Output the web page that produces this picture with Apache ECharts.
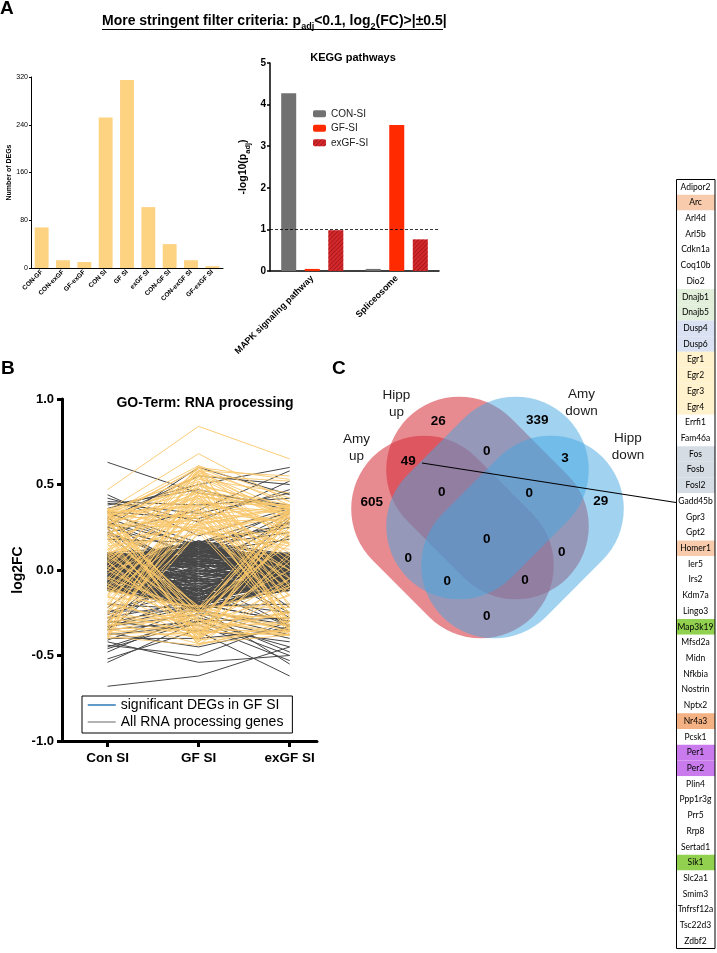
<!DOCTYPE html>
<html><head><meta charset="utf-8">
<script src="https://cdn.jsdelivr.net/npm/echarts@6/dist/echarts.min.js"></script>
<style>html,body{margin:0;padding:0;background:#fff}#c{width:717px;height:953px}</style>
</head><body><div id="c"></div>
<script>
// ---------- Panel A: number of DEGs ----------
const degCategories = ['CON-GF','CON-exGF','GF-exGF','CON SI','GF SI','exGF SI','CON-GF SI','CON-exGF SI','GF-exGF SI'];
const degCounts = [68, 13, 10, 252, 315, 102, 40, 13, 3];
const degTicks = [0, 80, 160, 240, 320];

// ---------- Panel A: KEGG pathways ----------
const keggPathways = ['MAPK signaling pathway', 'Spliceosome'];
const keggConSI = [4.27, 0.05];
const keggGfSI = [0.05, 3.51];
const keggExGfSI = [0.98, 0.76];
const keggThreshold = 1;

// ---------- Panel B: GO-Term RNA processing (log2FC at Con SI, GF SI, exGF SI) ----------
const goGroups = ['Con SI', 'GF SI', 'exGF SI'];
const allRnaGenes = [
[0.03,0.10,-0.01],[-0.06,-0.15,0.02],[0.08,0.02,0.06],[-0.11,-0.08,-0.07],[0.00,0.14,0.04],[0.05,-0.20,-0.03],[-0.03,0.05,0.08],[0.09,0.12,-0.06],[-0.12,-0.22,-0.11],[0.01,-0.04,0.00],
[-0.07,0.16,0.05],[0.06,-0.12,0.09],[-0.01,0.08,-0.09],[0.04,-0.18,0.01],[-0.09,0.00,-0.04],[0.08,0.06,0.08],[-0.05,-0.20,-0.12],[0.02,0.15,-0.05],[-0.12,-0.10,0.03],[0.07,-0.02,-0.08],
[-0.02,-0.23,0.06],[0.06,0.11,0.02],[-0.10,0.12,-0.10],[0.09,-0.08,0.04],[-0.04,-0.05,-0.01],[0.01,0.17,0.09],[-0.11,-0.17,0.00],[0.04,0.04,-0.11],[-0.07,0.07,0.07],[0.08,-0.16,-0.02],
[-0.01,-0.10,-0.06],[0.02,0.13,0.06],[-0.08,-0.24,-0.08],[0.06,0.09,-0.01],[-0.05,0.03,0.09],[0.09,-0.21,0.03],[-0.10,0.10,-0.05],[0.04,-0.01,0.07],[-0.12,-0.14,-0.12],[0.00,0.06,-0.07],
[0.05,-0.06,0.05],[-0.04,0.15,-0.03],[0.08,-0.19,-0.10],[-0.08,-0.03,0.08],[0.02,0.09,0.01],[-0.11,-0.21,0.04],[0.07,0.16,-0.04],[-0.02,-0.12,-0.11],[0.06,0.01,0.09],[-0.06,-0.18,-0.02],
[0.10,0.14,0.03],[-0.12,0.05,-0.09],[0.03,-0.14,0.07],[-0.03,0.12,-0.07],[0.07,-0.09,-0.05],[-0.09,-0.13,0.05],[0.01,0.02,0.04],[-0.05,-0.24,-0.05],[0.06,0.17,0.07],[-0.07,-0.06,-0.12],
[0.04,-0.22,0.00],[-0.01,0.11,0.09],[0.09,0.00,-0.10],[-0.10,-0.16,-0.01],[0.03,0.07,-0.02],[-0.06,-0.09,0.06],[0.07,-0.17,0.05],[-0.12,0.02,-0.08],[0.01,-0.07,0.02],[-0.02,0.14,-0.10],
[0.08,0.08,0.09],[-0.09,-0.20,-0.12],[0.04,0.16,0.00],[-0.07,-0.01,0.04],[0.05,-0.11,-0.07],[-0.11,0.09,0.07],[0.00,-0.19,-0.04],[0.10,0.04,0.05],[-0.04,-0.14,-0.09],[0.02,0.10,0.08],
[-0.11,-0.06,-0.02],[0.07,0.13,-0.08],[-0.01,-0.21,0.05],[0.05,0.05,0.02],[-0.08,0.16,-0.06],[0.03,-0.05,-0.10],[-0.06,-0.11,0.08],[0.09,-0.13,0.01],[-0.04,0.00,-0.05],[0.01,0.12,0.06],
[-0.10,-0.23,-0.07],[0.06,-0.03,0.09],[-0.02,0.07,-0.11],[0.04,-0.15,0.04],[-0.12,-0.04,0.01],[0.07,0.15,0.04],[-0.05,-0.18,-0.06],[0.02,0.03,-0.01],[-0.07,0.13,0.05],[0.07,-0.20,-0.05],
[0.04,0.16,-0.06],[-0.10,-0.12,-0.10],[0.08,-0.06,0.07],[-0.02,0.04,0.03],[0.01,-0.23,-0.08],[-0.05,0.11,0.09],[0.10,-0.10,-0.02],[-0.08,-0.02,-0.05],[0.05,0.08,0.07],[-0.01,-0.17,0.01],
[0.07,0.03,-0.04],[-0.04,-0.22,0.07],[0.03,0.14,-0.09],[-0.11,-0.15,0.02],[0.09,0.11,0.06],[-0.03,-0.08,-0.08],[0.05,-0.18,0.04],[-0.07,0.06,-0.02],[0.00,0.15,0.05],[-0.09,-0.19,-0.07],
[0.02,0.13,0.01],[-0.05,-0.17,-0.04],[0.06,0.05,0.08],[-0.09,-0.11,0.03],[0.01,0.17,-0.03],[-0.03,-0.24,-0.10],[0.08,0.08,0.02],[-0.06,-0.02,0.06],[0.03,-0.13,-0.06],[-0.10,0.12,0.00],
[0.05,-0.21,0.07],[-0.02,0.09,-0.12],[0.09,-0.04,0.05],[-0.12,-0.20,-0.03],[0.04,0.16,0.08],[-0.07,0.01,-0.09],[0.07,-0.15,0.03],[-0.01,0.10,0.10],[0.10,-0.07,-0.06],[-0.08,-0.23,0.05],
[0.25,0.10,0.18],[-0.28,-0.18,-0.25],[0.30,0.14,0.22],[-0.31,-0.20,-0.30],[0.22,0.03,-0.25],[-0.25,-0.05,0.20],[0.28,0.07,0.33],[0.18,0.16,0.34],[-0.26,-0.11,-0.33],[0.33,0.16,0.27],
[-0.33,-0.21,-0.20],[0.24,-0.20,-0.30],[-0.30,0.12,0.28],[0.34,0.12,0.35],[-0.24,-0.24,-0.32],[0.20,-0.17,0.30],[-0.35,0.05,-0.28],[0.31,-0.12,0.10],[-0.28,-0.02,0.31],[0.27,0.15,-0.22],
[-0.22,0.16,0.25],[0.29,-0.05,-0.33],[-0.34,-0.14,0.02],[0.21,0.02,0.28],[-0.20,-0.23,-0.35],
[0.63,0.45,0.38],[0.36,0.50,0.60],[0.30,0.55,0.50],[0.25,0.60,0.44],[0.38,0.47,0.35],[0.22,0.35,0.58],[0.34,0.30,0.47],[0.40,0.38,0.42],[0.42,0.28,0.52],[0.39,0.33,0.45],[0.44,0.20,0.36],
[-0.54,-0.30,-0.28],[-0.42,-0.54,-0.50],[-0.38,-0.32,-0.53],[-0.68,-0.62,-0.45],[-0.30,-0.36,-0.62],[-0.45,-0.28,-0.40],[-0.40,-0.40,-0.35],[-0.35,-0.30,-0.45],[-0.44,-0.50,-0.30],[-0.33,-0.26,-0.48],
[-0.48,-0.25,-0.38],[-0.41,-0.22,-0.55],[-0.52,-0.35,-0.42],[-0.37,-0.45,-0.33],[-0.46,-0.30,-0.50]
];
const sigDegsGfSI = [
[0.47,0.84,0.65],[0.35,0.68,0.40],[0.33,0.61,0.42],[0.30,0.60,0.38],[0.20,0.58,0.55],[0.10,0.57,0.35],[-0.05,0.55,0.30],[0.34,0.55,0.52],[0.25,0.52,0.20],[-0.15,0.50,0.36],
[0.05,0.48,-0.10],[0.32,0.46,0.33],[-0.30,0.45,0.25],[0.15,0.44,0.05],[0.28,0.42,-0.20],[-0.20,0.40,0.10],[0.00,0.38,0.34],[0.22,0.36,-0.30],[-0.35,0.35,0.00],[0.12,0.34,0.28],
[0.30,0.32,0.15],[-0.10,0.30,-0.25],[0.26,0.29,0.36],[-0.25,0.28,0.30],[0.08,0.27,-0.05],[0.33,0.26,0.00],[-0.38,0.25,-0.15],[0.18,0.24,0.32],[-0.02,0.23,0.12],[0.35,0.22,-0.35],
[0.14,0.21,0.22],[-0.28,0.21,0.34],[0.24,0.40,0.26],[-0.08,0.43,0.37],[0.31,0.50,0.18],[0.02,0.58,0.30],[0.20,0.31,-0.12],[-0.18,0.33,0.20],[0.34,0.37,0.08],[-0.32,0.29,-0.30],
[0.10,0.26,0.38],[0.29,0.53,0.45],[-0.12,0.36,-0.38],[0.06,0.41,0.24],[0.27,0.45,0.37],
[-0.40,0.56,0.32],[0.32,0.59,-0.10],[-0.22,0.60,0.15],[0.16,0.57,-0.28],[-0.33,0.52,-0.05],[0.35,0.54,0.28],[0.00,0.61,-0.22],[-0.10,0.58,0.40],[0.27,0.56,-0.34],[-0.26,0.49,0.38],
[0.12,0.51,-0.36],[0.34,0.48,0.02],[-0.38,0.47,0.36],[0.21,0.46,-0.15],[-0.06,0.44,-0.32],[0.30,0.43,0.35],[-0.16,0.42,0.22],[0.04,0.39,0.38],[0.33,0.38,-0.27],[-0.35,0.37,0.33],
[0.19,0.35,-0.08],[-0.24,0.34,-0.36],[0.09,0.32,0.37],[0.36,0.30,-0.30],[-0.31,0.27,0.36],[0.26,0.25,0.16],[-0.14,0.24,-0.33],[0.31,0.23,0.31],[-0.39,0.22,0.14],[0.07,0.60,0.53],
[0.20,-0.44,-0.30],[-0.30,-0.43,-0.38],[0.05,-0.42,-0.10],[-0.15,-0.41,-0.35],[0.30,-0.40,0.10],[-0.35,-0.39,-0.20],[0.10,-0.38,0.30],[-0.25,-0.37,0.05],[0.25,-0.36,-0.38],[-0.05,-0.35,-0.25],
[-0.38,-0.34,0.20],[0.15,-0.33,-0.05],[-0.20,-0.32,-0.32],[0.33,-0.31,-0.15],[-0.10,-0.30,0.25],[0.00,-0.29,-0.37],[-0.32,-0.28,0.00],[0.22,-0.27,0.18],[-0.28,-0.26,-0.28],[0.08,-0.25,0.35],
[-0.36,-0.24,-0.10],[0.28,-0.23,-0.36],[-0.12,-0.22,0.15],[0.18,-0.21,-0.22],[-0.22,-0.40,-0.14],[0.12,-0.43,-0.34],[-0.40,-0.36,-0.38],[0.35,-0.30,0.30],[-0.08,-0.38,0.08],[0.02,-0.34,-0.30],
[0.34,-0.42,0.22],[-0.39,-0.44,-0.05],[0.18,-0.41,0.36],[-0.27,-0.40,0.30],[0.29,-0.38,-0.24],[-0.11,-0.39,0.34],[0.36,-0.37,-0.08],[-0.34,-0.35,-0.36],[0.05,-0.36,0.22],[-0.19,-0.33,-0.38],
[0.24,-0.32,0.33],[-0.37,-0.31,-0.25],[0.13,-0.29,-0.38],[-0.30,-0.27,0.35],[0.32,-0.26,-0.28],[-0.04,-0.25,0.36],[0.20,-0.24,-0.33],[-0.33,-0.23,0.28],[0.27,-0.22,0.37],[-0.16,-0.21,-0.36]
];
const goTicks = [-1, -0.5, 0, 0.5, 1];

// ---------- Panel C: Venn ----------
const vennSets = ['Amy up', 'Hipp up', 'Amy down', 'Hipp down'];
const vennRegions = ['A','B','C','D','AB','AC','AD','BC','BD','CD','ABC','ABD','ACD','BCD','ABCD'];
const vennCounts  = [605, 26, 339, 29, 49, 0, 0, 0, 0, 3, 0, 0, 0, 0, 0];

// ---------- Panel C: genes in Amy up ∩ Hipp up ----------
const sharedGenes = ['Adipor2','Arc','Arl4d','Arl5b','Cdkn1a','Coq10b','Dio2','Dnajb1','Dnajb5','Dusp4','Dusp6','Egr1','Egr2','Egr3','Egr4','Errfi1','Fam46a','Fos','Fosb','Fosl2','Gadd45b','Gpr3','Gpt2','Homer1','Ier5','Irs2','Kdm7a','Lingo3','Map3k19','Mfsd2a','Midn','Nfkbia','Nostrin','Nptx2','Nr4a3','Pcsk1','Per1','Per2','Plin4','Ppp1r3g','Prr5','Rrp8','Sertad1','Sik1','Slc2a1','Smim3','Tnfrsf12a','Tsc22d3','Zdbf2'];
const geneFamily = ['','arc','','','','','','hsp40','hsp40','dusp','dusp','egr','egr','egr','egr','','','ap1','ap1','ap1','','','','arc','','','','','kinase','','','','','','nr4a','','per','per','','','','','','kinase','','','','',''];

// ---------- styles (kept apart from data) ----------
const FONT = 'Liberation Sans, Arial, sans-serif';
const familyColor = {'':'#ffffff', arc:'#F8CBAD', hsp40:'#E2EFDA', dusp:'#D9E1F2', egr:'#FFF2CC', ap1:'#D6DCE4', kinase:'#92D050', nr4a:'#F4B183', per:'#C97BEE'};
const vennLayout = {
  shapes: [
    {x:452.5, y:537, rot:-Math.PI/4, fill:'rgba(214,43,54,0.55)'},
    {x:487.5, y:498, rot:-Math.PI/4, fill:'rgba(214,43,54,0.55)'},
    {x:487.5, y:498, rot: Math.PI/4, fill:'rgba(68,165,226,0.5)'},
    {x:522.5, y:537, rot: Math.PI/4, fill:'rgba(68,165,226,0.5)'}
  ],
  len:226, thick:146,
  setLabels: [[356.5,448],[396.5,403.5],[581.5,402.5],[628,447]],
  regions: {A:[371.7,502.7],B:[438.3,421.7],C:[537.3,420],D:[600.7,501.7],AB:[408.3,461.7],AC:[408.3,558.3],AD:[486.7,616.5],BC:[486.7,451.7],BD:[561.7,552.3],CD:[565,458.3],ABC:[441.7,492.7],ABD:[525,580.5],ACD:[447.3,581],BCD:[529.3,493.3],ABCD:[486.7,539.3]}
};

function polyline(lines) {
  const d = [];
  lines.forEach(t => { t.forEach((v, i) => d.push([i, v])); d.push([2, '-']); });
  return d;
}

const graphics = [];
function txt(x, y, text, size, weight, align, extra) {
  graphics.push({type:'text', x, y, z:10, style: Object.assign({text, fontSize:size, fontWeight:weight||'normal', fontFamily:FONT, fill:'#000', align:align||'left', verticalAlign:'middle'}, extra||{})});
}
txt(0, 9, 'A', 19, 'bold');
txt(102, 21, '{m|More stringent filter criteria: p}{s|adj}{m|<0.1, log}{s|2}{m|(FC)>|±0.5|}', 14, 'bold', 'left', {
  rich: {
    m: {fontSize:14, fontWeight:'bold', fontFamily:FONT, lineHeight:14, verticalAlign:'top'},
    s: {fontSize:9, fontWeight:'bold', fontFamily:FONT, lineHeight:9, padding:[8,0,0,0], verticalAlign:'top'}
  }
});
graphics.push({type:'line', z:10, shape:{x1:102, y1:29.5, x2:443, y2:29.5}, style:{stroke:'#000', lineWidth:1}});
txt(353, 58, 'KEGG pathways', 11, 'bold', 'center');
txt(1, 369, 'B', 19, 'bold');
txt(205, 403, 'GO-Term: RNA processing', 14, 'bold', 'center');
txt(332, 369, 'C', 19, 'bold');

vennLayout.shapes.forEach((e, i) => {
  const L = vennLayout.len, T = vennLayout.thick;
  graphics.push({type:'rect', x:e.x, y:e.y, rotation:e.rot, z:2 + i,
    shape:{x:-L/2, y:-T/2, width:L, height:T, r:T/2}, style:{fill:e.fill}});
});
vennSets.forEach((s, i) => {
  const p = vennLayout.setLabels[i];
  txt(p[0], p[1], s.replace(' ', '\n'), 13.5, 'normal', 'center', {lineHeight:17, fill:'#1a1a1a'});
});
vennRegions.forEach((r, i) => {
  const p = vennLayout.regions[r];
  txt(p[0], p[1], String(vennCounts[i]), 13.5, 'bold', 'center');
});
graphics.push({type:'line', z:11, shape:{x1:422, y1:463, x2:676, y2:502.5}, style:{stroke:'#000', lineWidth:1.2}});
graphics.push({type:'rect', z:20, shape:{x:676.5, y:179.5, width:38.5, height:769}, style:{fill:null, stroke:'#000', lineWidth:1}});

const chart = echarts.init(document.getElementById('c'), null, {renderer:'canvas'});
const option = {
  animation: false,
  backgroundColor: '#fff',
  textStyle: {fontFamily: FONT, color:'#000'},
  grid: [
    {left:31, top:77, width:192, height:191},
    {left:270, top:63, width:169, height:208},
    {left:62, top:399, width:255, height:342},
    {left:676, top:179, width:39, height:770}
  ],
  xAxis: [
    {type:'category', gridIndex:0, data:degCategories,
     axisLine:{lineStyle:{color:'#000', width:1}}, axisTick:{show:false},
     axisLabel:{rotate:45, interval:0, fontSize:6.5, fontWeight:'bold', color:'#000', margin:3}},
    {type:'category', gridIndex:1, data:keggPathways,
     axisLine:{lineStyle:{color:'#000', width:1.5}}, axisTick:{alignWithLabel:true, length:3, lineStyle:{color:'#000'}},
     axisLabel:{rotate:45, interval:0, fontSize:9, fontWeight:'bold', color:'#000', margin:6}},
    {type:'value', gridIndex:2, min:-0.5, max:2.3, splitLine:{show:false},
     axisLine:{onZero:false, lineStyle:{color:'#000', width:3}},
     axisTick:{customValues:[0,1,2], length:6, lineStyle:{color:'#000', width:3}},
     axisLabel:{customValues:[0,1,2], formatter: v => goGroups[Math.round(v)], fontSize:13.5, fontWeight:'bold', color:'#000', margin:10}},
    {type:'value', gridIndex:3, min:0, max:1, show:false}
  ],
  yAxis: [
    {type:'value', gridIndex:0, min:degTicks[0], max:degTicks[degTicks.length-1], interval:degTicks[1]-degTicks[0], splitLine:{show:false},
     axisLine:{show:true, lineStyle:{color:'#000', width:1}}, axisTick:{show:true, length:2, lineStyle:{color:'#000'}},
     axisLabel:{fontSize:7, color:'#000', margin:3},
     name:'Number of DEGs', nameLocation:'middle', nameRotate:90, nameGap:17, nameTextStyle:{fontSize:7, fontWeight:'bold', color:'#000'}},
    {type:'value', gridIndex:1, min:0, max:5, interval:1, splitLine:{show:false},
     axisLine:{show:true, lineStyle:{color:'#000', width:1.5}}, axisTick:{show:true, length:3, lineStyle:{color:'#000', width:1.5}},
     axisLabel:{fontSize:10, fontWeight:'bold', color:'#000', margin:4},
     name:'{m|-log10(p}{s|adj}{m|)}', nameLocation:'middle', nameRotate:90, nameGap:21,
     nameTextStyle:{rich:{
       m:{fontSize:10.5, fontWeight:'bold', fontFamily:FONT, color:'#000', lineHeight:11, verticalAlign:'top'},
       s:{fontSize:7.5, fontWeight:'bold', fontFamily:FONT, color:'#000', lineHeight:7.5, padding:[6,0,0,0], verticalAlign:'top'}}}},
    {type:'value', gridIndex:2, min:goTicks[0], max:goTicks[goTicks.length-1], interval:goTicks[1]-goTicks[0], splitLine:{show:false},
     axisLine:{show:true, onZero:false, lineStyle:{color:'#000', width:3}}, axisTick:{show:true, length:5, lineStyle:{color:'#000', width:3}},
     axisLabel:{fontSize:13, fontWeight:'bold', color:'#000', margin:8, formatter: v => v.toFixed(1)},
     name:'log2FC', nameLocation:'middle', nameRotate:90, nameGap:37, nameTextStyle:{fontSize:14, fontWeight:'bold', color:'#000'}},
    {type:'category', gridIndex:3, data:sharedGenes, inverse:true, show:false}
  ],
  legend: [
    {left:313, top:108, orient:'vertical', padding:0, itemWidth:13, itemHeight:7, itemGap:3, selectedMode:false,
     textStyle:{fontSize:10, color:'#222', lineHeight:11.5}, data:['CON-SI','GF-SI','exGF-SI']},
    {left:82, top:696, orient:'vertical', padding:[2,9,4,5], borderColor:'#000', borderWidth:1, itemWidth:28, itemHeight:10, itemGap:3, selectedMode:false,
     textStyle:{fontSize:14, color:'#000', lineHeight:14},
     data:[
       {name:'significant DEGs in GF SI', itemStyle:{color:'rgba(0,0,0,0)', borderWidth:0}, lineStyle:{color:'#2E78B6', width:1.5}},
       {name:'All RNA processing genes', itemStyle:{color:'rgba(0,0,0,0)', borderWidth:0}, lineStyle:{color:'#9a9a9a', width:1.5}}
     ]}
  ],
  series: [
    {type:'bar', name:'DEGs', xAxisIndex:0, yAxisIndex:0, data:degCounts, barCategoryGap:'35%', itemStyle:{color:'#FDD281'}},
    {type:'bar', name:'CON-SI', xAxisIndex:1, yAxisIndex:1, data:keggConSI, barWidth:15, barGap:'57%', itemStyle:{color:'#717171'},
     markLine:{silent:true, symbol:['none','none'], label:{show:false}, lineStyle:{type:[3,2], color:'#000', width:0.8}, data:[{yAxis:keggThreshold}]}},
    {type:'bar', name:'GF-SI', xAxisIndex:1, yAxisIndex:1, data:keggGfSI, barWidth:15, barGap:'57%', itemStyle:{color:'#FF2A00'}},
    {type:'bar', name:'exGF-SI', xAxisIndex:1, yAxisIndex:1, data:keggExGfSI, barWidth:15, barGap:'57%',
     itemStyle:{color:'#D42A2E', decal:{symbol:'rect', symbolSize:1, dashArrayX:[1,0], dashArrayY:[1,2], rotation:-Math.PI/4, color:'rgba(120,0,0,0.45)'}}},
    {type:'line', name:'All RNA processing genes', xAxisIndex:2, yAxisIndex:2, data:polyline(allRnaGenes), connectNulls:false,
     symbol:'none', lineStyle:{color:'#464646', width:1}, itemStyle:{color:'#464646'}},
    {type:'line', name:'significant DEGs in GF SI', xAxisIndex:2, yAxisIndex:2, data:polyline(sigDegsGfSI), connectNulls:false,
     symbol:'none', lineStyle:{color:'#F8C66A', width:0.9}, itemStyle:{color:'#F8C66A'}},
    {type:'bar', name:'genes', xAxisIndex:3, yAxisIndex:3, barCategoryGap:'0%',
     data: sharedGenes.map((g, i) => ({value:1, itemStyle:{color:familyColor[geneFamily[i]]}})),
     label:{show:true, position:'inside', formatter: p => p.name, fontFamily:'Lato, sans-serif', fontSize:8.5, color:'#000'}}
  ],
  graphic: graphics
};
chart.setOption(option);
</script></body></html>
